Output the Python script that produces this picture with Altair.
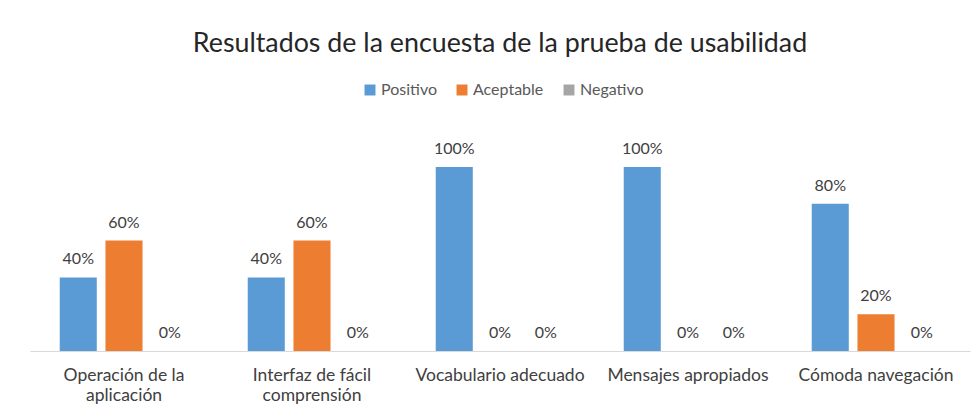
import altair as alt
import pandas as pd

categories = ["Operación de la|aplicación", "Interfaz de fácil|comprensión",
              "Vocabulario adecuado", "Mensajes apropiados", "Cómoda navegación"]
series = ["Positivo", "Aceptable", "Negativo"]
positivo = [0.40, 0.40, 1.00, 1.00, 0.80]
aceptable = [0.60, 0.60, 0.00, 0.00, 0.20]
negativo = [0.00, 0.00, 0.00, 0.00, 0.00]
colors = ["#5B9BD5", "#ED7D31", "#A5A5A5"]

rows = []
for i, c in enumerate(categories):
    for s, vals in zip(series, [positivo, aceptable, negativo]):
        rows.append({"cat": c, "serie": s, "val": vals[i]})
df = pd.DataFrame(rows)

FONT = "Lato"

base = alt.Chart(df).encode(
    x=alt.X("cat:N", sort=categories, title=None,
            scale=alt.Scale(paddingInner=0.0, paddingOuter=0.0),
            axis=alt.Axis(labelExpr="split(datum.label, '|')", labelAngle=0,
                          labelFontSize=17.5, labelColor="#404040", labelFont=FONT,
                          labelPadding=15, labelLineHeight=20, ticks=False,
                          domainColor="#D9D9D9", domainWidth=1, labelLimit=300)),
    xOffset=alt.XOffset("serie:N", sort=series,
                        scale=alt.Scale(paddingInner=0.19, paddingOuter=0.65)),
    y=alt.Y("val:Q", scale=alt.Scale(domain=[0, 1]), axis=None),
)

bars = base.mark_bar().encode(
    color=alt.Color("serie:N", sort=series,
                    scale=alt.Scale(domain=series, range=colors),
                    legend=alt.Legend(title=None, orient="none", direction="horizontal",
                                      legendX=332, legendY=-85, symbolType="square",
                                      symbolSize=120, symbolStrokeWidth=0,
                                      labelFontSize=16, labelColor="#595959",
                                      labelFont=FONT, columnPadding=17,
                                      symbolOffset=0, labelOffset=3)),
)

labels = base.mark_text(baseline="bottom", dy=-10, fontSize=16, color="#404040",
                        font=FONT).encode(
    text=alt.Text("val:Q", format=".0%"),
)

chart = (bars + labels).properties(
    width=940, height=184,
    padding={"left": 22, "top": 159, "right": 2, "bottom": 60},
    autosize=alt.AutoSizeParams(type="none"),
    title=alt.TitleParams("Resultados de la encuesta de la prueba de usabilidad",
                          fontSize=26.8, font=FONT, fontWeight="normal",
                          color="#262626", anchor="middle", offset=24),
).configure_view(stroke=None)

chart.save("out.html", embed_options={"renderer": "svg", "actions": False})
